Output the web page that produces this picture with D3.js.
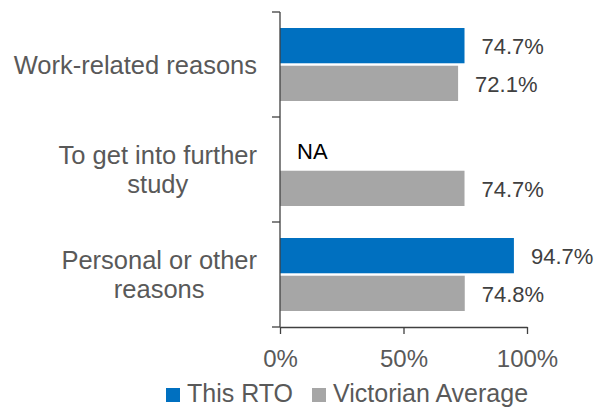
<!DOCTYPE html>
<html>
<head>
<meta charset="utf-8">
<script src="https://cdn.jsdelivr.net/npm/d3@7"></script>
<style>
  html, body { margin: 0; padding: 0; background: #fff; }
  svg { display: block; font-family: "Liberation Sans", Arial, sans-serif; }
</style>
</head>
<body>
<svg id="chart" width="608" height="408"></svg>
<script>
// Reasons for undertaking training, this RTO vs the Victorian average (%)
const categories = [
  ["Work-related reasons"],
  ["To get into further", "study"],
  ["Personal or other", "reasons"]
];
const seriesNames = ["This RTO", "Victorian Average"];
const thisRTO = [74.7, null, 94.7];
const victorianAverage = [72.1, 74.7, 74.8];
const missingLabel = "NA";
const xTicks = [0, 50, 100];

const colors = { "This RTO": "#0070C0", "Victorian Average": "#A6A6A6" };

const svg = d3.select("#chart");
const margin = { top: 12, left: 280, right: 81, bottom: 81 };
const W = 608, H = 408;

const catKeys = categories.map(c => c.join(" "));
const rows = catKeys.map((k, i) => ({
  key: k,
  lines: categories[i],
  values: [
    { series: seriesNames[0], value: thisRTO[i] },
    { series: seriesNames[1], value: victorianAverage[i] }
  ]
}));

const x = d3.scaleLinear().domain([0, 100]).range([margin.left, W - margin.right]);
const y = d3.scaleBand().domain(catKeys).range([margin.top, H - margin.bottom]).padding(0);
const inner = d3.scaleBand().domain(seriesNames)
  .range([16, y.bandwidth() - 16]).paddingInner(0.065);

const axisColor = "#404040";

// Bars
const groups = svg.append("g").selectAll("g").data(rows).join("g")
  .attr("transform", d => `translate(0,${y(d.key)})`);

groups.selectAll("rect")
  .data(d => d.values.filter(v => v.value != null))
  .join("rect")
  .attr("x", x(0))
  .attr("y", v => inner(v.series))
  .attr("width", v => x(v.value) - x(0))
  .attr("height", inner.bandwidth())
  .attr("fill", v => colors[v.series]);

// Value labels
groups.selectAll("text.val")
  .data(d => d.values)
  .join("text")
  .attr("class", "val")
  .attr("x", v => x(v.value == null ? 0 : v.value) + 17)
  .attr("y", v => inner(v.series) + inner.bandwidth() / 2 + 1)
  .attr("dominant-baseline", "central")
  .attr("font-size", 22)
  .attr("fill", v => v.value == null ? "#000" : "#404040")
  .text(v => v.value == null ? missingLabel : v.value.toFixed(1) + "%");

// Category labels (multi-line, lines centred within a right-aligned block)
const labelRight = 257;
const lineH = 29;
groups.each(function(d) {
  const g = d3.select(this);
  const t = g.append("text")
    .attr("font-size", 25.5)
    .attr("fill", "#595959")
    .attr("text-anchor", "middle");
  const n = d.lines.length;
  const spans = d.lines.map((ln, i) => t.append("tspan")
    .attr("y", y.bandwidth() / 2 + (i - (n - 1) / 2) * lineH)
    .attr("dominant-baseline", "central")
    .text(ln));
  const maxW = d3.max(spans, s => s.node().getComputedTextLength());
  spans.forEach(s => s.attr("x", labelRight - maxW / 2));
});

// Y axis: line with ticks at category boundaries
const yAxis = svg.append("g");
yAxis.append("line")
  .attr("x1", x(0)).attr("x2", x(0))
  .attr("y1", y.range()[0]).attr("y2", y.range()[1])
  .attr("stroke", axisColor).attr("stroke-width", 1.3);
const bounds = catKeys.map(k => y(k)).concat([y.range()[1]]);
yAxis.selectAll("line.tick").data(bounds).join("line")
  .attr("class", "tick")
  .attr("x1", x(0) - 8).attr("x2", x(0))
  .attr("y1", d => d).attr("y2", d => d)
  .attr("stroke", axisColor).attr("stroke-width", 1.3);

// X axis
const xAxis = svg.append("g")
  .attr("transform", `translate(0,${y.range()[1]})`)
  .call(d3.axisBottom(x).tickValues(xTicks).tickSize(7).tickSizeOuter(0)
    .tickFormat(d => d + "%"));
xAxis.select(".domain").attr("stroke", axisColor).attr("stroke-width", 1.3);
xAxis.selectAll(".tick line").attr("stroke", axisColor).attr("stroke-width", 1.3);
xAxis.selectAll(".tick text")
  .attr("font-size", 24)
  .attr("font-family", "Liberation Sans, Arial, sans-serif")
  .attr("fill", "#595959")
  .attr("y", 40)
  .attr("dy", null);

// Legend
const legendItems = [
  { name: seriesNames[0], sx: 166, tx: 187 },
  { name: seriesNames[1], sx: 312, tx: 333 }
];
const legend = svg.append("g");
legend.selectAll("rect").data(legendItems).join("rect")
  .attr("x", d => d.sx).attr("y", 388)
  .attr("width", 14).attr("height", 14)
  .attr("fill", d => colors[d.name]);
legend.selectAll("text").data(legendItems).join("text")
  .attr("x", d => d.tx).attr("y", 402)
  .attr("font-size", 25)
  .attr("fill", "#595959")
  .text(d => d.name);
</script>
</body>
</html>
